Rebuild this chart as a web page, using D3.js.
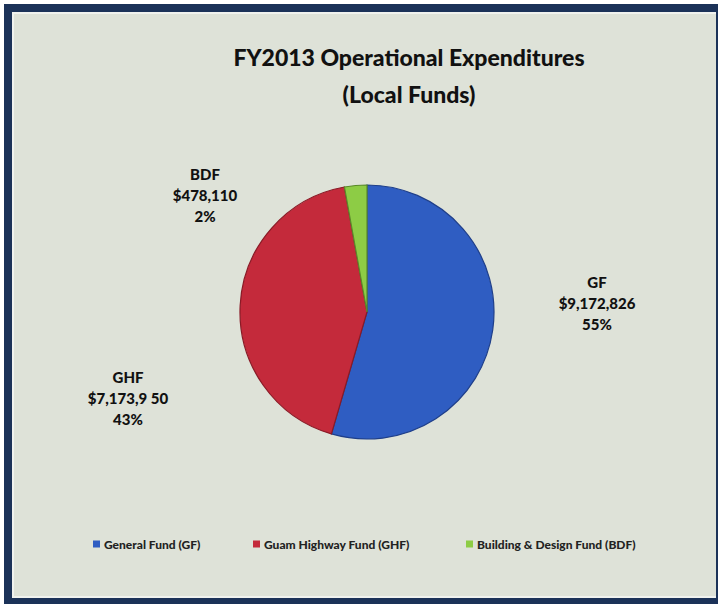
<!DOCTYPE html>
<html><head><meta charset="utf-8">
<script src="https://cdn.jsdelivr.net/npm/d3@7"></script>
<style>html,body{margin:0;padding:0;background:#fff;}svg{display:block;}</style>
</head><body>
<svg id="chart" width="718" height="604"></svg>
<script>
const categories = ["General Fund (GF)", "Guam Highway Fund (GHF)", "Building & Design Fund (BDF)"];
const codes = ["GF", "GHF", "BDF"];
const values = [9172826, 7173950, 478110];
const valueLabels = ["$9,172,826", "$7,173,9 50", "$478,110"];
const percentLabels = ["55%", "43%", "2%"];
const colors = ["#2f5dc2", "#c42a3b", "#8dcc45"];
const strokeColors = ["#1f3f8a", "#8a1a26", "#5a8a2a"];
const titleLines = ["FY2013 Operational Expenditures", "(Local Funds)"];

const svg = d3.select("#chart");
const W = 718, H = 604;
const font = "Lato, 'Open Sans', sans-serif";

// frame
svg.append("rect").attr("x", 4).attr("y", 4).attr("width", W - 4).attr("height", H - 4).attr("fill", "#1b3258");
svg.append("rect").attr("x", 12).attr("y", 12).attr("width", W - 14).attr("height", H - 18).attr("fill", "#f0f2ee");
svg.append("rect").attr("x", 14).attr("y", 14).attr("width", W - 16).attr("height", H - 22).attr("fill", "#dee2d8");

// title
svg.selectAll("text.title").data(titleLines).join("text")
  .attr("class", "title")
  .attr("x", 409).attr("y", (d, i) => 66 + i * 37)
  .attr("text-anchor", "middle")
  .attr("font-family", font).attr("font-weight", "900").attr("font-size", 23)
  .attr("fill", "#111").text(d => d);

// pie
const cx = 367, cy = 312, r = 127;
const pie = d3.pie().sort(null).value(d => d)(values);
const arc = d3.arc().innerRadius(0).outerRadius(r);
const g = svg.append("g").attr("transform", `translate(${cx},${cy})`);
g.selectAll("path").data(pie).join("path")
  .attr("d", arc)
  .attr("fill", (d, i) => colors[i])
  .attr("stroke", (d, i) => strokeColors[i])
  .attr("stroke-width", 1.2);

// labels
const labelPos = [[597, 288], [128, 383], [205, 180]];
codes.forEach((c, i) => {
  const t = svg.append("text")
    .attr("text-anchor", "middle")
    .attr("font-family", font).attr("font-weight", "900").attr("font-size", 15)
    .attr("fill", "#111");
  [c, valueLabels[i], percentLabels[i]].forEach((s, j) => {
    t.append("tspan").attr("x", labelPos[i][0]).attr("y", labelPos[i][1] + j * 21).text(s);
  });
});

// legend
const legendX = [93, 253, 466];
const lg = svg.selectAll("g.leg").data(categories).join("g")
  .attr("class", "leg")
  .attr("transform", (d, i) => `translate(${legendX[i]},544)`);
lg.append("rect").attr("x", 0).attr("y", -3.5).attr("width", 7).attr("height", 7)
  .attr("fill", (d, i) => colors[i]);
lg.append("text").attr("x", 11).attr("y", 4.5)
  .attr("font-family", font).attr("font-weight", "900").attr("font-size", 12)
  .attr("fill", "#222").text(d => d);
</script>
</body></html>
